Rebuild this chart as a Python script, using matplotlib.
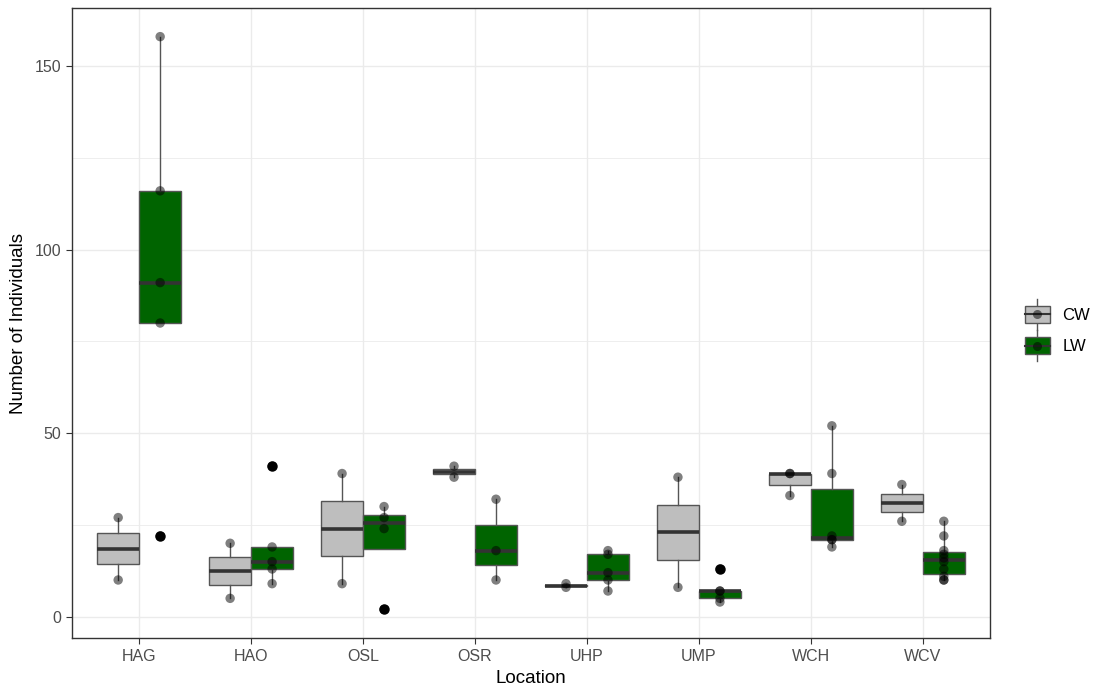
import matplotlib
matplotlib.use("Agg")
import matplotlib.pyplot as plt
from matplotlib.legend_handler import HandlerBase
from matplotlib.patches import Rectangle
from matplotlib.lines import Line2D
import numpy as np

plt.rcParams["font.family"] = ["Liberation Sans", "DejaVu Sans"]

locations = ["HAG", "HAO", "OSL", "OSR", "UHP", "UMP", "WCH", "WCV"]
groups = ["CW", "LW"]
cw_values = [
    [10, 27],
    [5, 20],
    [9, 39],
    [38, 41],
    [8, 9],
    [8, 38],
    [33, 39, 39],
    [26, 36],
]
lw_values = [
    [22, 80, 91, 116, 158],
    [9, 13, 15, 19, 41],
    [2, 24, 27, 30],
    [10, 18, 32],
    [7, 10, 12, 17, 18],
    [4, 5, 7, 7, 13],
    [19, 21, 21, 22, 39, 52],
    [10, 10, 11, 13, 15, 16, 17, 18, 22, 26],
]
fills = {"CW": "#bebebe", "LW": "#006400"}

fig = plt.figure(figsize=(10.99, 6.95), dpi=100)
ax = fig.add_axes([72/1099, 57/695, 918/1099, 630/695])

xs = np.arange(1, len(locations) + 1)
bw = 0.375
offsets = {"CW": -0.1875, "LW": 0.1875}
edge = "#555555"
for g, vals in (("CW", cw_values), ("LW", lw_values)):
    pos = xs + offsets[g]
    ax.boxplot(vals, positions=pos, widths=bw, patch_artist=True, showcaps=False,
               whis=1.5, manage_ticks=False,
               boxprops=dict(facecolor=fills[g], edgecolor=edge, linewidth=1.0),
               whiskerprops=dict(color=edge, linewidth=1.0),
               medianprops=dict(color="#333333", linewidth=2.6, solid_capstyle="butt"),
               flierprops=dict(marker="o", markerfacecolor="black", markeredgecolor="black",
                               markersize=6.5, linestyle="none"),
               zorder=2)
    for p, v in zip(pos, vals):
        ax.scatter(np.full(len(v), p), v, s=46, color="black", alpha=0.5,
                   edgecolors="none", zorder=4)

ax.set_xlim(0.4, 8.6)
ax.set_ylim(-5.8, 165.8)
ax.set_xticks(xs)
ax.set_xticklabels(locations)
ax.set_yticks([0, 50, 100, 150])
ax.set_yticks([25, 75, 125], minor=True)
ax.grid(True, which="major", color="#ebebeb", linewidth=1.0, zorder=0)
ax.grid(True, which="minor", axis="y", color="#ebebeb", linewidth=0.6, zorder=0)
ax.set_axisbelow(True)
for s in ax.spines.values():
    s.set_color("#333333")
    s.set_linewidth(1.0)
ax.tick_params(axis="both", which="major", colors="#333333", labelcolor="#4d4d4d",
               labelsize=11.5, length=4, width=0.8, pad=4)
ax.tick_params(axis="y", which="minor", length=0)
ax.set_xlabel("Location", fontsize=13.5, color="black", labelpad=4)
ax.set_ylabel("Number of Individuals", fontsize=13.5, color="black", labelpad=5)


class BoxHandler(HandlerBase):
    def __init__(self, fill):
        super().__init__()
        self.fill = fill

    def create_artists(self, legend, orig_handle, xdescent, ydescent, width, height, fontsize, trans):
        cx = width / 2 - xdescent
        cy = height / 2 - ydescent
        bw_ = width * 0.95
        bh = height * 0.7
        arts = []
        arts.append(Line2D([cx, cx], [cy - height * 0.65, cy + height * 0.65], color=edge, lw=1.0, transform=trans))
        arts.append(Rectangle((cx - bw_ / 2, cy - bh / 2), bw_, bh, facecolor=self.fill, edgecolor=edge, lw=1.0, transform=trans))
        arts.append(Line2D([cx - bw_ / 2, cx + bw_ / 2], [cy, cy], color="#333333", lw=1.5, transform=trans))
        arts.append(Line2D([cx], [cy], marker="o", color="black", alpha=0.5, markersize=6.5, markeredgewidth=0, transform=trans))
        return arts


handles = [Rectangle((0, 0), 1, 1, label=g) for g in groups]
leg = fig.legend(handles=handles, labels=groups, loc="center left",
                 bbox_to_anchor=(1024/1099, 365/695), frameon=False, fontsize=12,
                 handler_map={handles[0]: BoxHandler(fills["CW"]), handles[1]: BoxHandler(fills["LW"])},
                 handlelength=1.6, handleheight=1.8, labelspacing=0.45, handletextpad=0.7,
                 borderpad=0, borderaxespad=0)

fig.savefig("out.png", dpi=100)
